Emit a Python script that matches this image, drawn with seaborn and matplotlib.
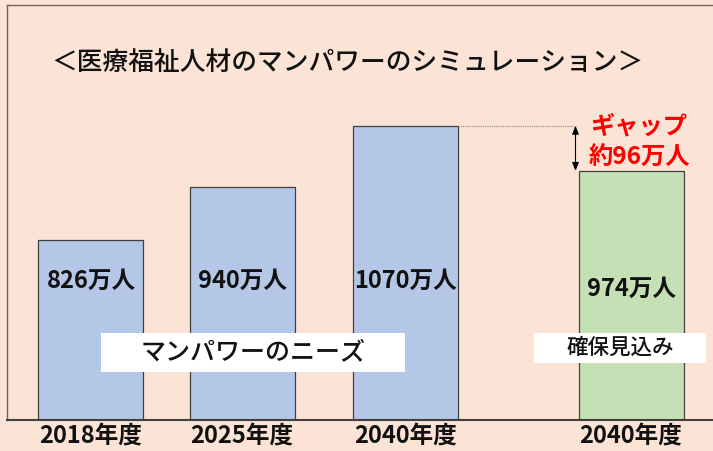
import matplotlib
import numpy as np
import pandas as pd

matplotlib.use("Agg")
import matplotlib.pyplot as plt
import seaborn as sns
from matplotlib.patches import Rectangle


YEARS = ["2018年度", "2025年度", "2040年度", "2040年度"]
WORKERS = [826, 940, 1070, 974]  # 万人
GROUPS = ["needs", "needs", "needs", "supply"]

TITLE = "＜医療福祉人材のマンパワーのシミュレーション＞"
NEEDS_LABEL = "マンパワーのニーズ"
SUPPLY_LABEL = "確保見込み"
GAP_LABEL = "ギャップ"

# layout only: bar slots on the x axis, with a wider gap before the supply bar
X_SLOTS = [0, 0.98, 2.04, 3.5]
BAR_WIDTH = 0.68

COLORS = {
    "bg": "#FBE4D6",
    "needs": "#B4C7E7",
    "supply": "#C5E0B4",
    "edge": "#404040",
    "frame": "#6E6259",
    "gap": "#FF0000",
}

W, H = 713, 451


def px(x, y):
    # pixel (from top-left) -> figure fraction
    return x / W, 1 - y / H


def setup_style() -> None:
    sns.set_theme(style="white")
    plt.rcParams["font.family"] = ["Noto Sans CJK JP", "DejaVu Sans"]
    plt.rcParams["figure.facecolor"] = COLORS["bg"]
    plt.rcParams["axes.facecolor"] = COLORS["bg"]
    plt.rcParams["savefig.facecolor"] = COLORS["bg"]


def white_box(fig, x0, y0, x1, y1, text, fontsize):
    fx, fy = px(x0, y1)
    fig.patches.append(
        Rectangle((fx, fy), (x1 - x0) / W, (y1 - y0) / H, transform=fig.transFigure,
                  facecolor="white", edgecolor="none", zorder=5)
    )
    cx, cy = px((x0 + x1) / 2, (y0 + y1) / 2)
    fig.text(cx, cy, text, ha="center", va="center", fontsize=fontsize, fontweight="medium",
             color="#111111", zorder=6)


def main() -> None:
    setup_style()
    df = pd.DataFrame({"slot": X_SLOTS, "workers": WORKERS, "group": GROUPS})

    fig = plt.figure(figsize=(W / 100, H / 100), dpi=100)
    ax = fig.add_axes([7 / W, (H - 420) / H, (W - 7) / W, 415 / H])

    sns.barplot(
        data=df,
        x="slot",
        y="workers",
        hue="group",
        palette={"needs": COLORS["needs"], "supply": COLORS["supply"]},
        saturation=1,
        native_scale=True,
        dodge=False,
        width=BAR_WIDTH / np.min(np.diff(X_SLOTS)),
        edgecolor=COLORS["edge"],
        linewidth=0.9,
        legend=False,
        ax=ax,
    )
    ax.set_ylim(444, 1327)
    ax.set_xlim(-0.544, 4.031)
    ax.set_yticks([])
    ax.set_xticks(X_SLOTS)
    ax.set_xticklabels(YEARS, fontsize=17, fontweight="bold", color="#111111")
    ax.tick_params(axis="x", length=0, pad=3)
    ax.set_xlabel("")
    ax.set_ylabel("")

    ax.spines["right"].set_visible(False)
    for side in ["top", "left"]:
        ax.spines[side].set_color(COLORS["frame"])
        ax.spines[side].set_linewidth(1.0)
    ax.spines["bottom"].set_color(COLORS["edge"])
    ax.spines["bottom"].set_linewidth(1.5)

    # value labels inside the bars
    label_y = [0.335, 0.335, 0.335, 0.316]
    for x, v, ly in zip(X_SLOTS, WORKERS, label_y):
        ax.text(x, ly, f"{v}万人", transform=ax.get_xaxis_transform(), ha="center", va="center",
                fontsize=17, fontweight="bold", color="#111111")

    # gap between needs (2040) and supply (2040)
    bar3_right = X_SLOTS[2] + BAR_WIDTH / 2
    arrow_x = X_SLOTS[3] - BAR_WIDTH / 2 - 0.02
    ax.plot([bar3_right, arrow_x], [WORKERS[2], WORKERS[2]], linestyle=(0, (1, 1)),
            color="#888888", linewidth=0.8)
    ax.annotate("", xy=(arrow_x, WORKERS[3]), xytext=(arrow_x, WORKERS[2]),
                arrowprops=dict(arrowstyle="<|-|>,head_length=0.5,head_width=0.2",
                                color="black", lw=0.8, shrinkA=0, shrinkB=0, mutation_scale=10))
    gap = WORKERS[2] - WORKERS[3]
    fig.text(*px(639, 126), GAP_LABEL, ha="center", va="center", fontsize=17.5,
             fontweight="bold", color=COLORS["gap"])
    fig.text(*px(639, 158), f"約{gap}万人", ha="center", va="center", fontsize=17.5,
             fontweight="bold", color=COLORS["gap"])

    fig.text(*px(51, 62), TITLE, ha="left", va="center", fontsize=18.5, fontweight="medium",
             color="#111111")

    white_box(fig, 101, 333, 405, 372, NEEDS_LABEL, 18)
    white_box(fig, 534, 333, 706, 363, SUPPLY_LABEL, 15.5)

    plt.savefig("out.png", dpi=100)
    plt.close()


if __name__ == "__main__":
    main()
